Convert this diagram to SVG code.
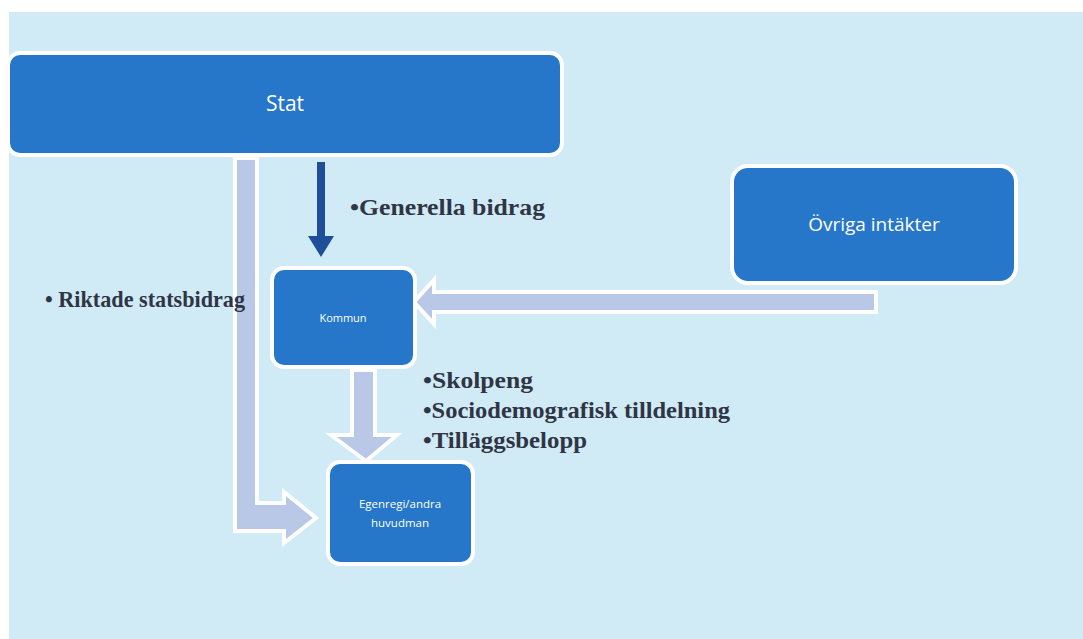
<svg xmlns="http://www.w3.org/2000/svg" width="1083" height="639" viewBox="0 0 1083 639">
<style>
.node{fill:#2677c9;stroke:#ffffff;stroke-width:4}
.ntxt{fill:#ffffff;font-family:"Open Sans","DejaVu Sans",sans-serif;text-anchor:middle}
.lbl{fill:#2f3545;font-family:"Liberation Serif","DejaVu Serif",serif;font-size:24px;font-weight:bold}
.fat{fill:#b9c8e6;stroke:#ffffff;stroke-width:4;stroke-linejoin:miter}
</style>
<rect x="0" y="0" width="1083" height="639" fill="#ffffff"/>
<rect x="9" y="12" width="1074" height="627" fill="#d0ebf6"/>
<g id="connectors">
  <path class="fat" d="M235,158 L257,158 L257,503 L284,503 L284,492 L316,518 L284,543 L284,531 L235,531 Z"/>
  <path class="fat" d="M876,292 L876,312 L434,312 L434,324 L414,302 L434,280 L434,292 Z"/>
  <path class="fat" d="M352,370 L375,370 L375,435 L397,435 L366,461 L331,435 L352,435 Z"/>
  <path d="M317,162 L325,162 L325,236 L334,236 L321,257 L308,236 L317,236 Z" fill="#1f4f98"/>
</g>
<g id="stat">
  <rect class="node" x="8" y="53" width="554" height="102" rx="12"/>
  <text class="ntxt" x="285" y="111" font-size="21">Stat</text>
</g>
<g id="ovriga">
  <rect class="node" x="732" y="166" width="284" height="117" rx="16"/>
  <text class="ntxt" x="874" y="231" font-size="19">Övriga intäkter</text>
</g>
<g id="kommun">
  <rect class="node" x="272" y="268" width="143" height="99" rx="12"/>
  <text class="ntxt" x="343" y="322" font-size="11">Kommun</text>
</g>
<g id="egenregi">
  <rect class="node" x="328" y="462" width="145" height="102" rx="12"/>
  <text class="ntxt" x="400" y="508" font-size="11.5">Egenregi/andra</text>
  <text class="ntxt" x="400" y="527" font-size="11.5">huvudman</text>
</g>
<g id="labels">
  <text class="lbl" x="350" y="215" textLength="195" lengthAdjust="spacingAndGlyphs">•Generella bidrag</text>
  <text class="lbl" x="45" y="307" font-size="22" textLength="200" lengthAdjust="spacingAndGlyphs">• Riktade statsbidrag</text>
  <text class="lbl" x="423" y="388" textLength="110" lengthAdjust="spacingAndGlyphs">•Skolpeng</text>
  <text class="lbl" x="423" y="418" textLength="307" lengthAdjust="spacingAndGlyphs">•Sociodemografisk tilldelning</text>
  <text class="lbl" x="423" y="448" textLength="164" lengthAdjust="spacingAndGlyphs">•Tilläggsbelopp</text>
</g>
</svg>
